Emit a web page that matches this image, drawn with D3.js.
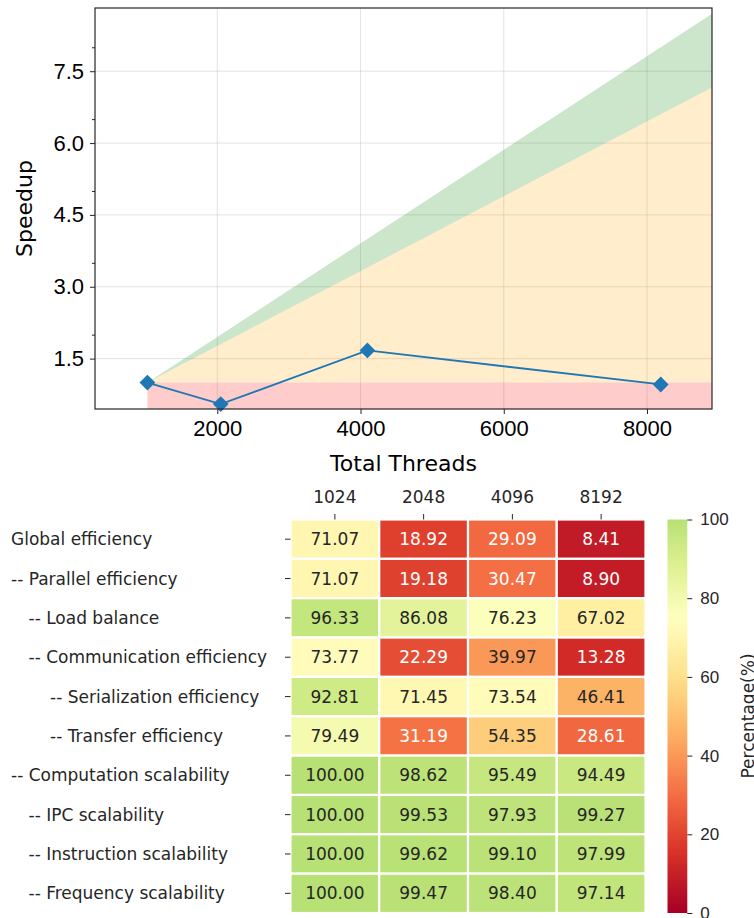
<!DOCTYPE html>
<html>
<head>
<meta charset="utf-8">
<script src="https://cdn.jsdelivr.net/npm/d3@7"></script>
<style>
  body { margin: 0; background: #fff; }
  svg { display: block; font-family: "DejaVu Sans", sans-serif; }
</style>
</head>
<body>
<svg id="chart" width="754" height="918"></svg>
<script>
// speedup plot
const threads = [1024, 2048, 4096, 8192];
const speedup = [1.0, 0.55, 1.67, 0.96];
// shaded regions (ideal / 80% of ideal / below 1)
const bandX = [1024, 8908];
const idealSpeedup = [1.0, 8.70];
const goodSpeedup = [1.0, 7.16];
const xTicks = [2000, 4000, 6000, 8000];
const yTicks = [1.5, 3.0, 4.5, 6.0, 7.5];
const yMinorTicks = [2.0, 3.5, 5.0, 6.5, 8.0];

// efficiency table
const colLabels = ["1024", "2048", "4096", "8192"];
const rowLabels = [
  "Global efficiency",
  "-- Parallel efficiency",
  "-- Load balance",
  "-- Communication efficiency",
  "-- Serialization efficiency",
  "-- Transfer efficiency",
  "-- Computation scalability",
  "-- IPC scalability",
  "-- Instruction scalability",
  "-- Frequency scalability"
];
const rowIndent = [0, 0, 1, 1, 2, 2, 0, 1, 1, 1];
const efficiency = [
  [71.07, 18.92, 29.09, 8.41],
  [71.07, 19.18, 30.47, 8.90],
  [96.33, 86.08, 76.23, 67.02],
  [73.77, 22.29, 39.97, 13.28],
  [92.81, 71.45, 73.54, 46.41],
  [79.49, 31.19, 54.35, 28.61],
  [100.00, 98.62, 95.49, 94.49],
  [100.00, 99.53, 97.93, 99.27],
  [100.00, 99.62, 99.10, 97.99],
  [100.00, 99.47, 98.40, 97.14]
];
const cbarTicks = [0, 20, 40, 60, 80, 100];

const svg = d3.select("#chart");
const ink = "#262626";

// ---------- top: speedup ----------
const x = d3.scaleLinear().domain([292, 8908]).range([95, 712]);
const y = d3.scaleLinear().domain([0.448, 8.82]).range([409, 8]);

const defs = svg.append("defs");
defs.append("clipPath").attr("id", "plotclip")
  .append("rect").attr("x", 95).attr("y", 8).attr("width", 617).attr("height", 401);

const plot = svg.append("g");

// grid
plot.selectAll(".gx").data(xTicks).join("line")
  .attr("x1", d => x(d)).attr("x2", d => x(d)).attr("y1", 8).attr("y2", 409)
  .attr("stroke", "#b0b0b0").attr("stroke-opacity", 0.35).attr("stroke-width", 1);
plot.selectAll(".gy").data(yTicks).join("line")
  .attr("x1", 95).attr("x2", 712).attr("y1", d => y(d)).attr("y2", d => y(d))
  .attr("stroke", "#b0b0b0").attr("stroke-opacity", 0.35).attr("stroke-width", 1);

// bands
const bands = plot.append("g").attr("clip-path", "url(#plotclip)");
const idx = d3.range(bandX.length);
const area = (lo, hi) => d3.area().x(i => x(bandX[i])).y0(i => y(lo(i))).y1(i => y(hi(i)));
bands.append("path").datum(idx)
  .attr("d", area(() => 0, () => 1))
  .attr("fill", "red").attr("fill-opacity", 0.2);
bands.append("path").datum(idx)
  .attr("d", area(() => 1, i => goodSpeedup[i]))
  .attr("fill", "orange").attr("fill-opacity", 0.2);
bands.append("path").datum(idx)
  .attr("d", area(i => goodSpeedup[i], i => idealSpeedup[i]))
  .attr("fill", "green").attr("fill-opacity", 0.2);

// speedup line
const pts = threads.map((t, i) => [t, speedup[i]]);
plot.append("path").datum(pts)
  .attr("d", d3.line().x(d => x(d[0])).y(d => y(d[1])))
  .attr("fill", "none").attr("stroke", "#1f77b4").attr("stroke-width", 1.8);
plot.selectAll(".mk").data(pts).join("path")
  .attr("d", d3.symbol(d3.symbolSquare, 125)())
  .attr("transform", d => `translate(${x(d[0])},${y(d[1])}) rotate(45)`)
  .attr("fill", "#1f77b4");

// axes
const xAxis = plot.append("g").attr("transform", "translate(0,409)")
  .call(d3.axisBottom(x).tickValues(xTicks).tickSize(5).tickPadding(6).tickFormat(d3.format("d")));
const yAxis = plot.append("g").attr("transform", "translate(95,0)")
  .call(d3.axisLeft(y).tickValues(yTicks).tickSize(5).tickPadding(6).tickFormat(d3.format(".1f")));
plot.append("g").attr("transform", "translate(95,0)")
  .call(d3.axisLeft(y).tickValues(yMinorTicks).tickSize(3).tickFormat(""))
  .call(g => g.select(".domain").remove());
[xAxis, yAxis].forEach(g => {
  g.select(".domain").remove();
  g.selectAll("text").attr("fill", "#000").style("font-size", "22px");
});
plot.selectAll(".tick line").attr("stroke", ink);
plot.append("rect").attr("x", 95).attr("y", 8).attr("width", 617).attr("height", 401)
  .attr("fill", "none").attr("stroke", ink).attr("stroke-width", 1.2);

plot.append("text").attr("x", 403.5).attr("y", 471)
  .attr("text-anchor", "middle").style("font-size", "22px").text("Total Threads");
plot.append("text").attr("transform", "translate(31.5,208.5) rotate(-90)")
  .attr("text-anchor", "middle").style("font-size", "22px").text("Speedup");

// ---------- bottom: heatmap ----------
const hx = d3.scaleBand().domain(colLabels).range([290.5, 645.5]);
const hy = d3.scaleBand().domain(rowLabels).range([519.5, 913]);
// seaborn-style: RdYlGn centred on 75, cut to [0, 100]
const rdylgn = d3.schemeRdYlGn[11];
const cmap = d3.scaleLinear().domain(d3.range(11).map(i => i / 10)).range(rdylgn).clamp(true);
const color = v => cmap(v / 150);
const lum = c => {
  const r = d3.rgb(c);
  const f = u => { u /= 255; return u <= 0.03928 ? u / 12.92 : Math.pow((u + 0.055) / 1.055, 2.4); };
  return 0.2126 * f(r.r) + 0.7152 * f(r.g) + 0.0722 * f(r.b);
};

const heat = svg.append("g");
const cells = [];
efficiency.forEach((row, r) => row.forEach((v, c) => cells.push({ r, c, v })));
heat.selectAll("rect").data(cells).join("rect")
  .attr("x", d => hx(colLabels[d.c])).attr("y", d => hy(rowLabels[d.r]))
  .attr("width", hx.bandwidth()).attr("height", hy.bandwidth())
  .attr("fill", d => color(d.v)).attr("stroke", "#fff").attr("stroke-width", 2.2);
heat.selectAll(".val").data(cells).join("text")
  .attr("x", d => hx(colLabels[d.c]) + hx.bandwidth() / 2)
  .attr("y", d => hy(rowLabels[d.r]) + hy.bandwidth() / 2)
  .attr("dy", "0.36em").attr("text-anchor", "middle").style("font-size", "17px")
  .attr("fill", d => lum(color(d.v)) > 0.408 ? ink : "#fff")
  .text(d => d3.format(".2f")(d.v));

// column axis on top
heat.selectAll(".ct").data(colLabels).join("line")
  .attr("x1", d => hx(d) + hx.bandwidth() / 2).attr("x2", d => hx(d) + hx.bandwidth() / 2)
  .attr("y1", 519.5).attr("y2", 514).attr("stroke", ink);
heat.selectAll(".cl").data(colLabels).join("text")
  .attr("x", d => hx(d) + hx.bandwidth() / 2).attr("y", 502.5)
  .attr("text-anchor", "middle").style("font-size", "17px").attr("fill", ink).text(d => d);

// row axis
const indentX = [11, 28.5, 50];
heat.selectAll(".rt").data(rowLabels).join("line")
  .attr("x1", 285).attr("x2", 290.5)
  .attr("y1", d => hy(d) + hy.bandwidth() / 2).attr("y2", d => hy(d) + hy.bandwidth() / 2)
  .attr("stroke", ink);
heat.selectAll(".rl").data(rowLabels).join("text")
  .attr("x", (d, i) => indentX[rowIndent[i]])
  .attr("y", d => hy(d) + hy.bandwidth() / 2).attr("dy", "0.36em")
  .style("font-size", "17px").attr("fill", ink).text(d => d);

// colorbar
const cb = d3.scaleLinear().domain([0, 100]).range([913, 519.5]);
const grad = defs.append("linearGradient").attr("id", "cbgrad")
  .attr("x1", 0).attr("y1", 1).attr("x2", 0).attr("y2", 0);
grad.selectAll("stop").data(d3.range(0, 101, 2)).join("stop")
  .attr("offset", d => d / 100).attr("stop-color", d => color(d));
svg.append("rect").attr("x", 667.5).attr("y", 519.5).attr("width", 19.8).attr("height", 393.5)
  .attr("fill", "url(#cbgrad)");
const cbAxis = svg.append("g").attr("transform", "translate(687.3,0)")
  .call(d3.axisRight(cb).tickValues(cbarTicks).tickSize(5).tickPadding(8));
cbAxis.select(".domain").remove();
cbAxis.selectAll("line").attr("stroke", ink);
cbAxis.selectAll("text").attr("fill", ink).style("font-size", "17px");
svg.append("text").attr("transform", "translate(754,716) rotate(-90)")
  .attr("text-anchor", "middle").style("font-size", "17px").attr("fill", ink).text("Percentage(%)");
</script>
</body>
</html>
